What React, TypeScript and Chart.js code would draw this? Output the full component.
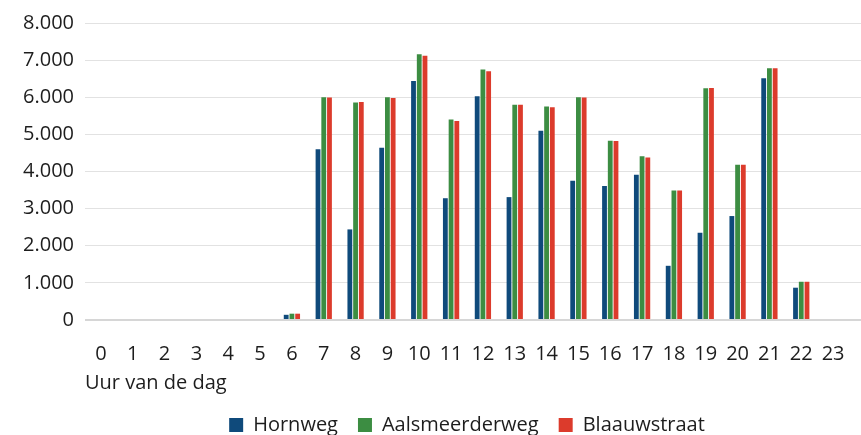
import React, { useEffect, useRef } from "react";
import { Chart, registerables } from "chart.js";

Chart.register(...registerables);

const hours: string[] = Array.from({ length: 24 }, (_, i) => String(i));
const hornweg: number[] = [0, 0, 0, 0, 0, 0, 140, 4600, 2440, 4640, 6440, 3280, 6030, 3310, 5100, 3750, 3610, 3910, 1460, 2350, 2800, 6510, 870, 0];
const aalsmeerderweg: number[] = [0, 0, 0, 0, 0, 0, 170, 6000, 5860, 6000, 7160, 5400, 6750, 5800, 5750, 6000, 4830, 4410, 3490, 6240, 4180, 6780, 1030, 0];
const blaauwstraat: number[] = [0, 0, 0, 0, 0, 0, 170, 5990, 5870, 5980, 7120, 5360, 6700, 5800, 5730, 5990, 4820, 4380, 3490, 6250, 4180, 6780, 1030, 0];
const seriesNames: string[] = ["Hornweg", "Aalsmeerderweg", "Blaauwstraat"];
const seriesColors: string[] = ["#0f4a7b", "#3c8d42", "#dc3b2c"];
const xTitle = "Uur van de dag";
const yMin = 0;
const yMax = 8000;
const yStep = 1000;

const fmt = (v: number) => String(Math.round(v)).replace(/\B(?=(\d{3})+(?!\d))/g, ".");

export default function App() {
  const ref = useRef<HTMLCanvasElement | null>(null);
  useEffect(() => {
    document.body.style.margin = "0";
    document.body.style.overflow = "hidden";
    if (!ref.current) return;
    const font = "'Open Sans', sans-serif";
    const textColor = "#1d1d1d";
    const gridColor = "#e2e2e2";
    const chart = new Chart(ref.current, {
      type: "bar",
      data: {
        labels: hours,
        datasets: [hornweg, aalsmeerderweg, blaauwstraat].map((d, i) => ({
          label: seriesNames[i],
          data: d,
          backgroundColor: seriesColors[i],
          borderWidth: 0,
          categoryPercentage: 0.54,
          barPercentage: 0.84,
        })),
      },
      options: {
        animation: false,
        responsive: false,
        devicePixelRatio: 1,
        layout: { padding: { top: 22, left: 12, right: 0, bottom: -10 } },
        font: { family: font },
        plugins: {
          tooltip: { enabled: false },
          legend: {
            position: "bottom",
            fullSize: false,
            labels: {
              boxWidth: 14,
              boxHeight: 14,
              padding: 20,
              color: textColor,
              font: { family: font, size: 20 },
            },
          },
        },
        scales: {
          x: {
            grid: {
              display: true,
              drawOnChartArea: false,
              drawTicks: true,
              tickLength: 22,
              color: "rgba(0,0,0,0)",
            },
            border: { display: false },
            ticks: {
              autoSkip: false,
              maxRotation: 0,
              padding: 0,
              color: textColor,
              font: { family: font, size: 20 },
            },
            title: {
              display: true,
              text: xTitle,
              align: "start",
              color: textColor,
              font: { family: font, size: 20 },
              padding: { top: 5, bottom: 0 },
            },
          },
          y: {
            min: yMin,
            max: yMax,
            border: { display: false },
            grid: {
              drawTicks: false,
              color: (c: any) => (c.tick && c.tick.value === 0 ? "#d6d6d6" : gridColor),
              lineWidth: (c: any) => (c.tick && c.tick.value === 0 ? 2 : 1),
            },
            ticks: {
              stepSize: yStep,
              padding: 11,
              color: textColor,
              font: { family: font, size: 20 },
              callback: (v: any) => fmt(Number(v)),
            },
          },
          y2: {
            position: "right",
            min: yMin,
            max: yMax,
            border: { display: false },
            grid: {
              drawOnChartArea: false,
              drawTicks: true,
              tickLength: 12,
              color: (c: any) => (c.tick && c.tick.value === 0 ? "#d6d6d6" : gridColor),
              lineWidth: (c: any) => (c.tick && c.tick.value === 0 ? 2 : 1),
            },
            ticks: { display: false, stepSize: yStep },
          },
        },
      },
    });
    return () => chart.destroy();
  }, []);
  return (
    <div style={{ width: 861, height: 435, position: "relative" }}>
      <canvas ref={ref} width={861} height={435} />
    </div>
  );
}
